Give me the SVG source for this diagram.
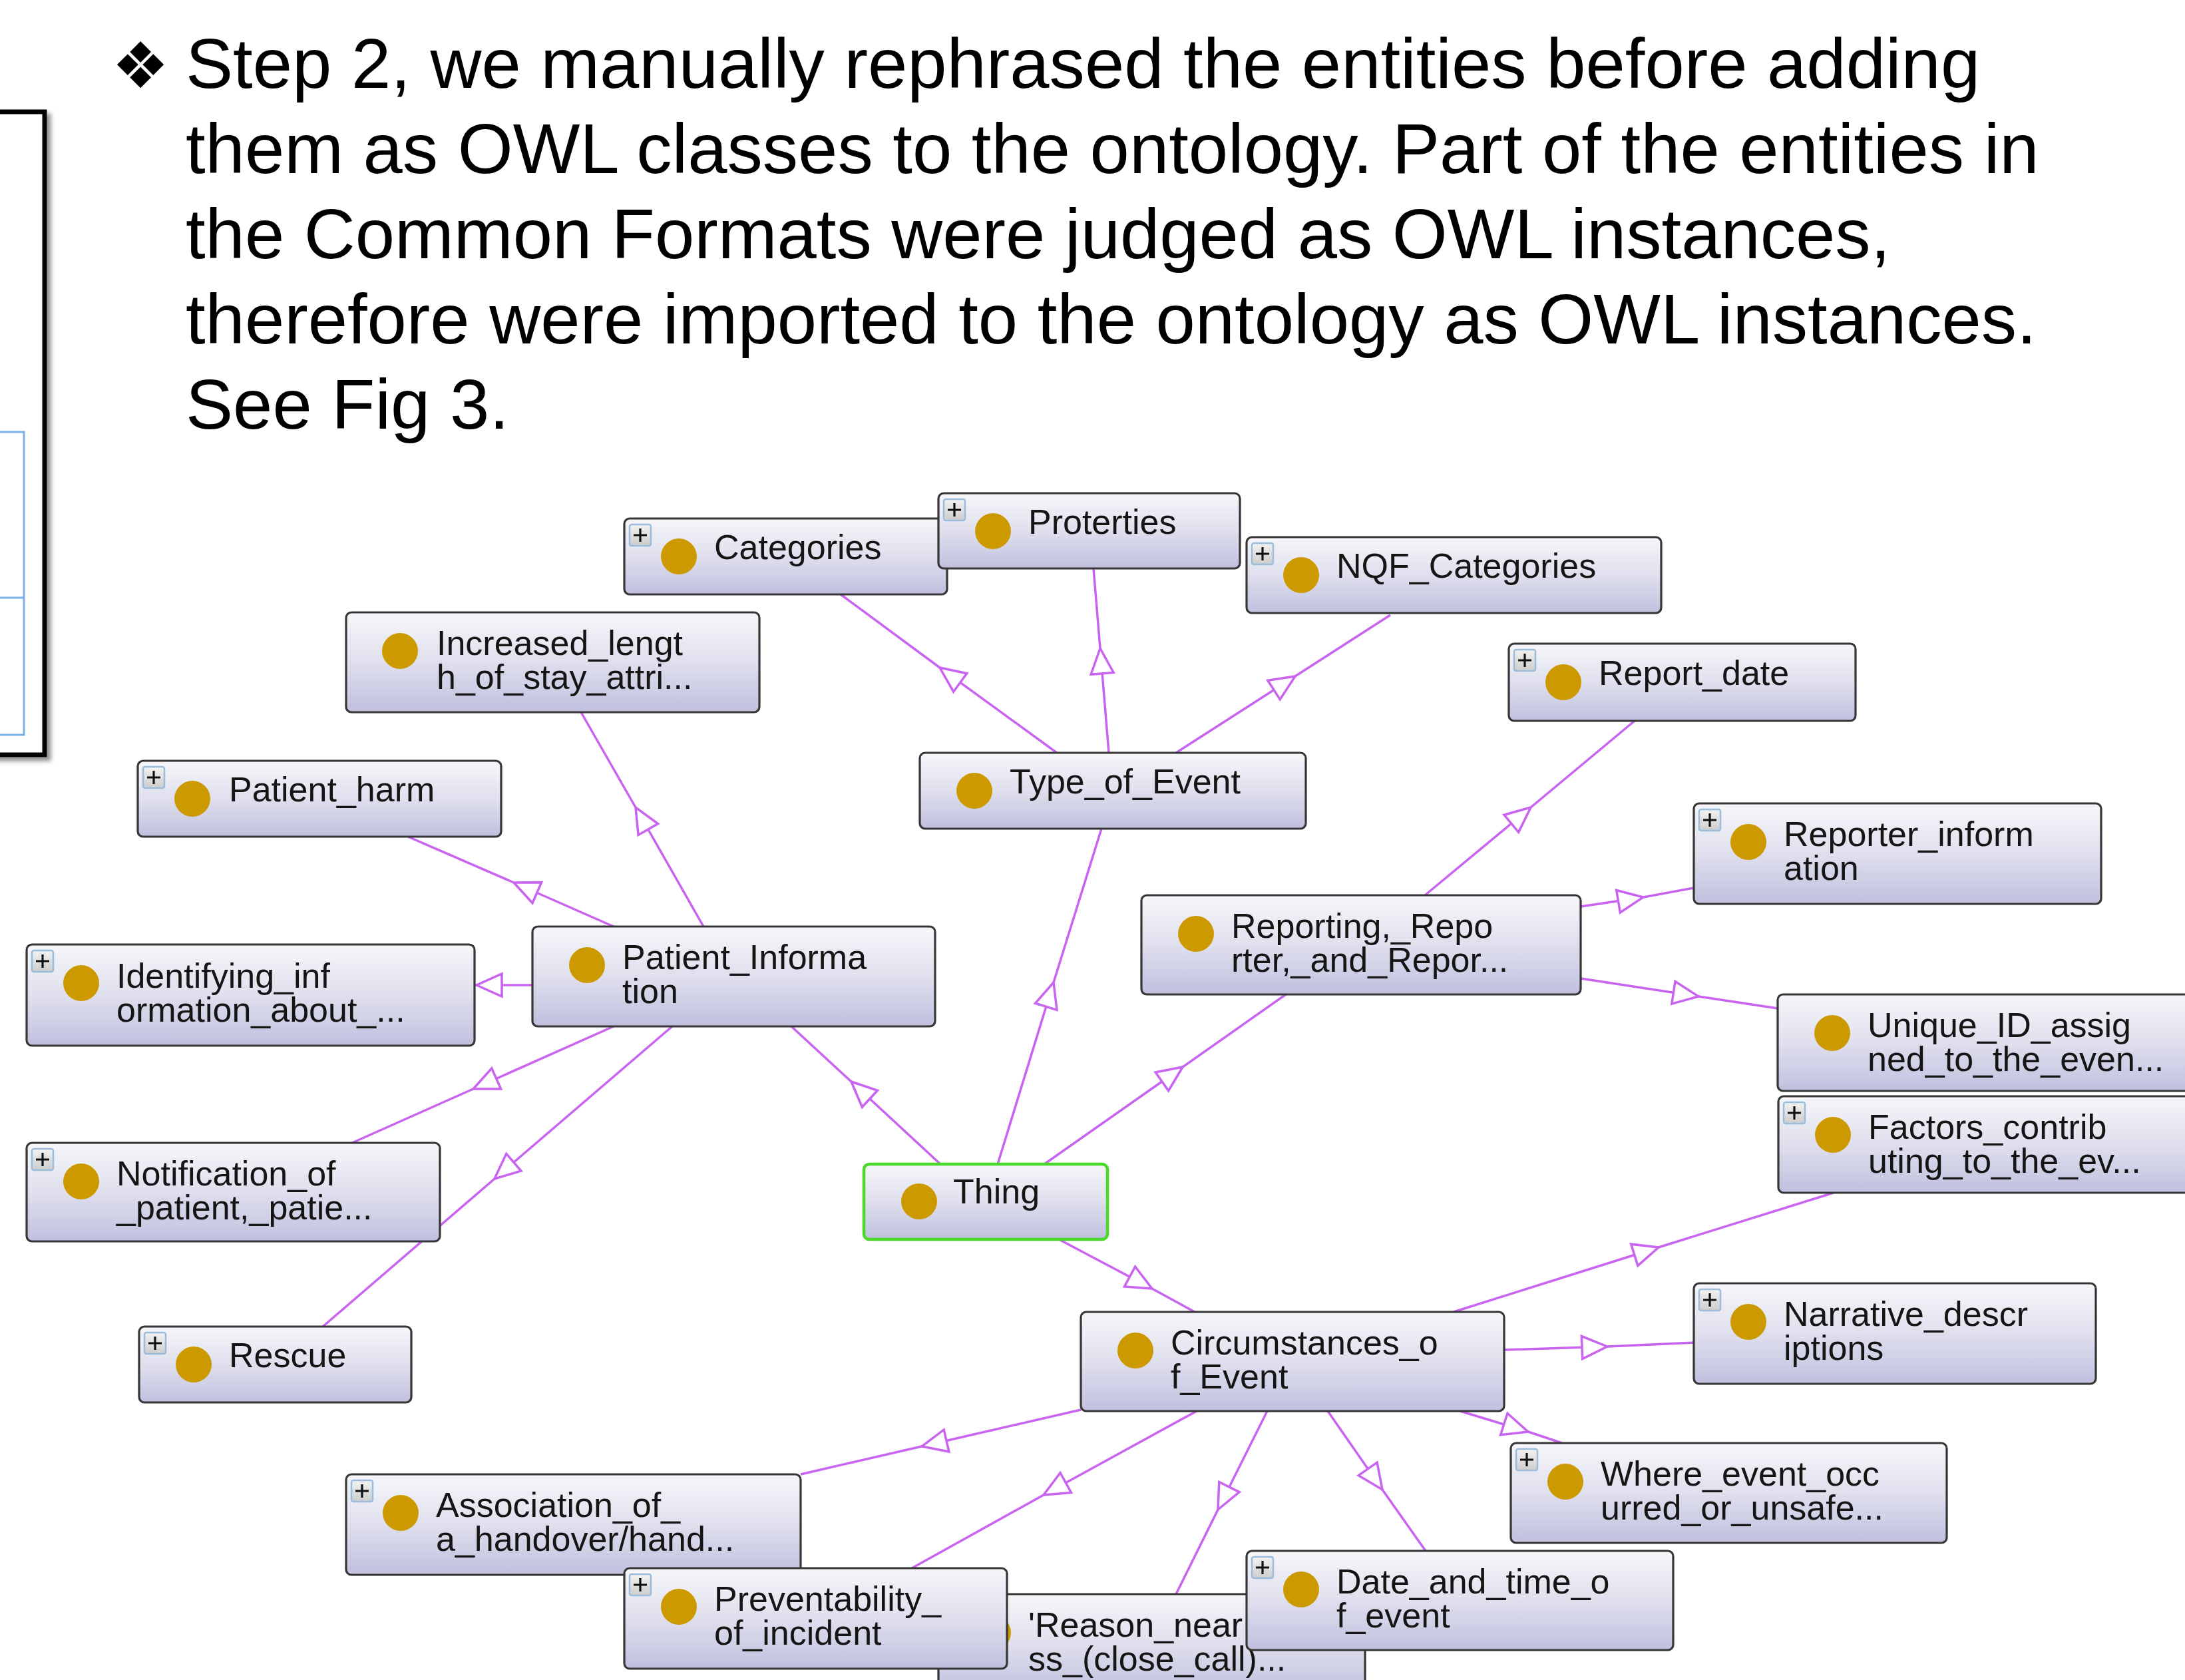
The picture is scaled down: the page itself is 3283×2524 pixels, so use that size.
<svg xmlns="http://www.w3.org/2000/svg" xmlns:xlink="http://www.w3.org/1999/xlink" width="3283" height="2524" viewBox="0 0 3283 2524">
<style>
.hdr{font-family:"Liberation Sans",Arial,sans-serif;font-size:106.6px;fill:#000}
.bullet{font-family:"DejaVu Sans",sans-serif;font-size:96px;fill:#000}
.box{fill:url(#ng);stroke:#363636;stroke-width:3.2}
.thing .box{stroke:#4ad82a;stroke-width:4.5}
.node circle{fill:#cc9900}
.node text{font-family:"Liberation Sans",Arial,sans-serif;font-size:52px;fill:#151515}
.edge{fill:none;stroke:#c864f0;stroke-width:3.5;marker-mid:url(#tri)}
</style>
<defs>
<linearGradient id="ng" x1="0" y1="0" x2="0" y2="1">
<stop offset="0" stop-color="#f6f6fa"/>
<stop offset="0.45" stop-color="#e2e2ef"/>
<stop offset="1" stop-color="#c0c0df"/>
</linearGradient>
<linearGradient id="pg" x1="0" y1="0" x2="0" y2="1">
<stop offset="0" stop-color="#f2f2f2"/>
<stop offset="1" stop-color="#cdcdcd"/>
</linearGradient>
<marker id="tri" viewBox="-46 -24 54 48" refX="0" refY="0" markerWidth="54" markerHeight="48" markerUnits="userSpaceOnUse" orient="auto" overflow="visible">
<path d="M0,0 L-38,-17 L-38,17 Z" fill="#fff" stroke="#c864f0" stroke-width="3.5"/>
</marker>
<g id="plus">
<rect x="8" y="9" width="32" height="32" rx="3" fill="url(#pg)" stroke="#9cbcdc" stroke-width="2.5"/>
<path d="M24 15 V35 M14 25 H34" stroke="#111" stroke-width="3.2"/>
</g>
<filter id="sh" x="-20%" y="-5%" width="160%" height="115%">
<feDropShadow dx="6" dy="6" stdDeviation="3" flood-color="#777" flood-opacity="0.8"/>
</filter>
</defs>
<rect width="3283" height="2524" fill="#fff"/>

<g id="left-panel">
<rect x="-20" y="168" width="87" height="966" fill="#fff" stroke="#000" stroke-width="7" filter="url(#sh)"/>
<path d="M0 649 H36 V1104 H0 M0 898 H36" fill="none" stroke="#7db0e6" stroke-width="3"/>
</g>

<g id="header">
<text class="bullet" x="168" y="132">❖</text>
<text class="hdr" x="279" y="132">Step 2, we manually rephrased the entities before adding</text>
<text class="hdr" x="279" y="260">them as OWL classes to the ontology. Part of the entities in</text>
<text class="hdr" x="279" y="388">the Common Formats were judged as OWL instances,</text>
<text class="hdr" x="279" y="516">therefore were imported to the ontology as OWL instances.</text>
<text class="hdr" x="279" y="644">See Fig 3.</text>
</g>

<g id="connectors">
<polyline class="edge" points="1588,1131 1412,1003 1263,893"/>
<polyline class="edge" points="1666,1131 1653,974 1643,854"/>
<polyline class="edge" points="1767,1131 1946,1016 2089,924"/>
<polyline class="edge" points="1499,1749 1583,1476 1655,1245"/>
<polyline class="edge" points="1413,1749 1279,1625 1189,1542"/>
<polyline class="edge" points="1569,1749 1777,1603 1932,1494"/>
<polyline class="edge" points="1591,1862 1731,1936 1795,1971"/>
<polyline class="edge" points="1057,1392 955,1213 873,1070"/>
<polyline class="edge" points="922,1392 772,1326 613,1257"/>
<polyline class="edge" points="800,1480 716,1480 713,1480"/>
<polyline class="edge" points="922,1542 711,1636 529,1717"/>
<polyline class="edge" points="1010,1542 743,1771 485,1993"/>
<polyline class="edge" points="2141,1345 2300,1213 2456,1083"/>
<polyline class="edge" points="2375,1362 2469,1348 2545,1334"/>
<polyline class="edge" points="2375,1470 2552,1497 2671,1515"/>
<polyline class="edge" points="2184,1971 2492,1874 2755,1792"/>
<polyline class="edge" points="2260,2028 2415,2023 2545,2017"/>
<polyline class="edge" points="2194,2120 2296,2151 2347,2168"/>
<polyline class="edge" points="1995,2120 2077,2238 2142,2330"/>
<polyline class="edge" points="1904,2120 1830,2268 1767,2395"/>
<polyline class="edge" points="1798,2120 1568,2246 1370,2356"/>
<polyline class="edge" points="1624,2118 1385,2173 1203,2215"/>
</g>

<g id="n-categories" class="node" transform="translate(938,779)"><rect class="box" width="485" height="114" rx="8"/><use href="#plus"/><circle cx="82" cy="57" r="27"/><text x="135" y="61">Categories</text></g>
<g id="n-proterties" class="node" transform="translate(1410,741)"><rect class="box" width="453" height="113" rx="8"/><use href="#plus"/><circle cx="82" cy="57" r="27"/><text x="135" y="61">Proterties</text></g>
<g id="n-nqf" class="node" transform="translate(1873,807)"><rect class="box" width="623" height="114" rx="8"/><use href="#plus"/><circle cx="82" cy="57" r="27"/><text x="135" y="61">NQF_Categories</text></g>
<g id="n-increased" class="node" transform="translate(520,920)"><rect class="box" width="621" height="150" rx="8"/><circle cx="81" cy="58" r="27"/><text><tspan x="136" y="64">Increased_lengt</tspan><tspan x="136" y="115">h_of_stay_attri...</tspan></text></g>
<g id="n-report-date" class="node" transform="translate(2267,967)"><rect class="box" width="521" height="116" rx="8"/><use href="#plus"/><circle cx="82" cy="58" r="27"/><text x="135" y="62">Report_date</text></g>
<g id="n-patient-harm" class="node" transform="translate(207,1143)"><rect class="box" width="546" height="114" rx="8"/><use href="#plus"/><circle cx="82" cy="57" r="27"/><text x="137" y="61">Patient_harm</text></g>
<g id="n-type-of-event" class="node" transform="translate(1382,1131)"><rect class="box" width="580" height="114" rx="8"/><circle cx="82" cy="57" r="27"/><text x="135" y="61">Type_of_Event</text></g>
<g id="n-reporter-info" class="node" transform="translate(2545,1207)"><rect class="box" width="612" height="151" rx="8"/><use href="#plus"/><circle cx="82" cy="58" r="27"/><text><tspan x="135" y="64">Reporter_inform</tspan><tspan x="135" y="115">ation</tspan></text></g>
<g id="n-reporting" class="node" transform="translate(1715,1345)"><rect class="box" width="660" height="149" rx="8"/><circle cx="82" cy="58" r="27"/><text><tspan x="135" y="64">Reporting,_Repo</tspan><tspan x="135" y="115">rter,_and_Repor...</tspan></text></g>
<g id="n-identifying" class="node" transform="translate(40,1419)"><rect class="box" width="673" height="152" rx="8"/><use href="#plus"/><circle cx="82" cy="58" r="27"/><text><tspan x="135" y="65">Identifying_inf</tspan><tspan x="135" y="116">ormation_about_...</tspan></text></g>
<g id="n-patient-info" class="node" transform="translate(800,1392)"><rect class="box" width="605" height="150" rx="8"/><circle cx="82" cy="58" r="27"/><text><tspan x="135" y="64">Patient_Informa</tspan><tspan x="135" y="115">tion</tspan></text></g>
<g id="n-unique-id" class="node" transform="translate(2671,1494)"><rect class="box" width="700" height="145" rx="8"/><circle cx="82" cy="58" r="27"/><text><tspan x="135" y="64">Unique_ID_assig</tspan><tspan x="135" y="115">ned_to_the_even...</tspan></text></g>
<g id="n-factors" class="node" transform="translate(2672,1647)"><rect class="box" width="700" height="145" rx="8"/><use href="#plus"/><circle cx="82" cy="58" r="27"/><text><tspan x="135" y="64">Factors_contrib</tspan><tspan x="135" y="115">uting_to_the_ev...</tspan></text></g>
<g id="n-notification" class="node" transform="translate(40,1717)"><rect class="box" width="621" height="148" rx="8"/><use href="#plus"/><circle cx="82" cy="58" r="27"/><text><tspan x="135" y="64">Notification_of</tspan><tspan x="135" y="115">_patient,_patie...</tspan></text></g>
<g id="n-thing" class="node thing" transform="translate(1298,1749)"><rect class="box" width="366" height="113" rx="8"/><circle cx="83" cy="56" r="27"/><text x="134" y="59">Thing</text></g>
<g id="n-rescue" class="node" transform="translate(209,1993)"><rect class="box" width="409" height="114" rx="8"/><use href="#plus"/><circle cx="82" cy="57" r="27"/><text x="135" y="61">Rescue</text></g>
<g id="n-narrative" class="node" transform="translate(2545,1928)"><rect class="box" width="604" height="151" rx="8"/><use href="#plus"/><circle cx="82" cy="58" r="27"/><text><tspan x="135" y="64">Narrative_descr</tspan><tspan x="135" y="115">iptions</tspan></text></g>
<g id="n-circumstances" class="node" transform="translate(1624,1971)"><rect class="box" width="636" height="149" rx="8"/><circle cx="82" cy="58" r="27"/><text><tspan x="135" y="64">Circumstances_o</tspan><tspan x="135" y="115">f_Event</tspan></text></g>
<g id="n-where" class="node" transform="translate(2270,2168)"><rect class="box" width="655" height="150" rx="8"/><use href="#plus"/><circle cx="82" cy="58" r="27"/><text><tspan x="135" y="64">Where_event_occ</tspan><tspan x="135" y="115">urred_or_unsafe...</tspan></text></g>
<g id="n-association" class="node" transform="translate(520,2215)"><rect class="box" width="683" height="151" rx="8"/><use href="#plus"/><circle cx="82" cy="58" r="27"/><text><tspan x="135" y="64">Association_of_</tspan><tspan x="135" y="115">a_handover/hand...</tspan></text></g>
<g id="n-reason" class="node" transform="translate(1410,2395)"><rect class="box" width="641" height="150" rx="8"/><use href="#plus"/><circle cx="82" cy="58" r="27"/><text><tspan x="135" y="64">'Reason_near</tspan><tspan x="135" y="115">ss_(close_call)...</tspan></text></g>
<g id="n-preventability" class="node" transform="translate(938,2356)"><rect class="box" width="575" height="151" rx="8"/><use href="#plus"/><circle cx="82" cy="58" r="27"/><text><tspan x="135" y="64">Preventability_</tspan><tspan x="135" y="115">of_incident</tspan></text></g>
<g id="n-date-time" class="node" transform="translate(1873,2330)"><rect class="box" width="641" height="149" rx="8"/><use href="#plus"/><circle cx="82" cy="58" r="27"/><text><tspan x="135" y="64">Date_and_time_o</tspan><tspan x="135" y="115">f_event</tspan></text></g>
</svg>
